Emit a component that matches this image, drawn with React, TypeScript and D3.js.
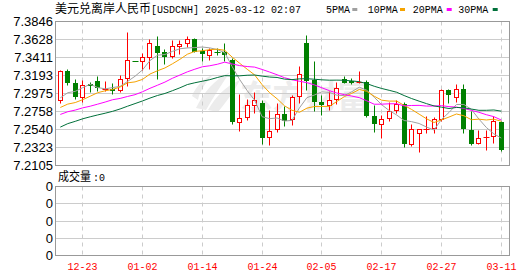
import React from 'react';
import * as d3 from 'd3';

// ---- data ----
const dates = ['12-18','12-19','12-20','12-23','12-24','12-25','12-26','12-27','12-30','12-31','01-01','01-02','01-03','01-06','01-07','01-08','01-09','01-10','01-13','01-14','01-15','01-16','01-17','01-20','01-21','01-22','01-23','01-24','01-27','01-28','01-29','01-30','01-31','02-03','02-04','02-05','02-06','02-07','02-10','02-11','02-12','02-13','02-14','02-17','02-18','02-19','02-20','02-21','02-24','02-25','02-26','02-27','02-28','03-03','03-04','03-05','03-06','03-07','03-10','03-11'];

const opens = [7.2891,7.3237,7.3096,7.2927,7.3088,7.3121,7.3024,7.3028,7.3012,7.3152,7.3363,7.3362,7.3411,7.3547,7.3471,7.3418,7.3547,7.3580,7.3632,7.3479,7.3435,7.3475,7.3471,7.3370,7.2629,7.2681,7.2830,7.2858,7.2444,7.2540,7.2722,7.2665,7.2939,7.3584,7.3128,7.2870,7.2830,7.2903,7.3145,7.3118,7.3106,7.3104,7.2701,7.2601,7.2668,7.2765,7.2846,7.2359,7.2487,7.2540,7.2552,7.2656,7.3015,7.2927,7.3028,7.2532,7.2371,7.2441,7.2456,7.2629];
const highs = [7.3257,7.3269,7.3145,7.3128,7.3109,7.3185,7.3124,7.3100,7.3193,7.3708,7.3364,7.3454,7.3632,7.3660,7.3511,7.3620,7.3620,7.3660,7.3638,7.3515,7.3520,7.3520,7.3584,7.3394,7.2967,7.2907,7.2983,7.2886,7.2774,7.2855,7.2822,7.2951,7.3306,7.3680,7.3366,7.2951,7.3000,7.3104,7.3181,7.3157,7.3245,7.3136,7.2826,7.2713,7.2862,7.2895,7.2862,7.2604,7.2546,7.2701,7.2681,7.3028,7.3024,7.3080,7.3080,7.2762,7.2532,7.2532,7.2701,7.2632];
const lows = [7.2855,7.3076,7.2903,7.2870,7.2983,7.2995,7.3000,7.2959,7.2983,7.3055,7.3360,7.3249,7.3266,7.3145,7.3326,7.3394,7.3447,7.3532,7.3475,7.3358,7.3370,7.3439,7.3358,7.2604,7.2520,7.2644,7.2734,7.2359,7.2351,7.2504,7.2572,7.2592,7.2855,7.3015,7.2753,7.2705,7.2765,7.2846,7.3096,7.3084,7.3096,7.2685,7.2508,7.2427,7.2632,7.2734,7.2318,7.2338,7.2257,7.2487,7.2487,7.2637,7.2855,7.2862,7.2492,7.2342,7.2359,7.2282,7.2371,7.2270];
const closes = [7.3245,7.3109,7.2934,7.3072,7.3076,7.3048,7.3028,7.3012,7.3145,7.3375,7.3361,7.3411,7.3580,7.3466,7.3418,7.3547,7.3572,7.3628,7.3487,7.3454,7.3495,7.3469,7.3442,7.2637,7.2677,7.2830,7.2886,7.2444,7.2520,7.2717,7.2644,7.2927,7.3205,7.3136,7.2874,7.2838,7.2891,7.3036,7.3109,7.3112,7.3112,7.2705,7.2613,7.2656,7.2762,7.2843,7.2371,7.2544,7.2544,7.2546,7.2665,7.3015,7.2959,7.3028,7.2548,7.2366,7.2435,7.2447,7.2641,7.2294];
// closes of the 29 sessions before the first visible candle (feed the moving averages)
const priorCloses = [7.185,7.210,7.215,7.235,7.238,7.240,7.232,7.229,7.238,7.241,7.245,7.254,7.253,7.268,7.255,7.252,7.245,7.283,7.290,7.293,7.270,7.275,7.272,7.266,7.262,7.280,7.285,7.285,7.287];

const priceTicks = [7.2105,7.2323,7.2540,7.2758,7.2975,7.3193,7.3411,7.3628,7.3846];
const xTickLabels = ['12-23','01-02','01-14','01-24','02-05','02-17','02-27','03-11'];
const volumeTickLabels = ['0','0','0','0','0'];
const maPeriods = [5,10,20,30];
const maNames = ['5PMA','10PMA','20PMA','30PMA'];
const titleCn = '美元兑离岸人民币';
const titleAscii = '[USDCNH] 2025-03-12 02:07';
const volTitleCn = '成交量';
const volTitleAscii = ':0';
const watermark = '东方财富';

// ---- style ----
const maColors = ['#a0a0a0','#f5a300','#ff00ff','#00703a'];
const RED = '#ff0000';
const GREEN = '#008000';
const MONO = '"Liberation Mono", "DejaVu Sans Mono", monospace';
const CJK = '"Noto Sans CJK SC", sans-serif';
const SANS = '"Liberation Sans", Arial, sans-serif';

const main = { left: 55.5, right: 509.5, top: 21.5, bottom: 165.5 };
const vol = { left: 55.5, right: 509.5, top: 186.5, bottom: 255.5 };

const px = (v: number) => Math.round(v - 0.5) + 0.5;

export default function App() {
  const x = d3.scalePoint<string>().domain(dates).range([60.3, 501.3]);
  const y = d3.scaleLinear().domain([priceTicks[0], priceTicks[priceTicks.length - 1]]).range([main.bottom, main.top]);
  const yVol = d3.scalePoint<number>().domain(d3.range(volumeTickLabels.length)).range([vol.bottom, vol.top]);

  const all = priorCloses.concat(closes);
  const off = priorCloses.length;
  const mas = maPeriods.map((p) =>
    closes.map((_, i) => d3.mean(all.slice(i + off - p + 1, i + off + 1)) as number)
  );
  const line = d3.line<number>().x((_, i) => x(dates[i]) as number).y((v) => y(v));

  const gridXs = xTickLabels.map((d) => px(x(d) as number));

  const legendX = [326, 367.7, 412.7, 458.3];
  const dashX = [352.3, 400, 446.7, 492.7];

  return (
    <svg width={530} height={276} style={{ display: 'block', position: 'absolute', left: 0, top: 0 }}>
      <rect x={0} y={0} width={530} height={276} fill="#fff" />
      <defs>
        <clipPath id="mainClip">
          <rect x={main.left} y={main.top} width={main.right - main.left} height={main.bottom - main.top} />
        </clipPath>
      </defs>

      {/* title */}
      <text x={55} y={13} fontSize={12} fontFamily={CJK} textLength={96} lengthAdjust="spacingAndGlyphs" fill="#000">{titleCn}</text>
      <text x={151} y={13} fontFamily={MONO} fontSize={11} textLength={150} lengthAdjust="spacingAndGlyphs" fill="#000">{titleAscii}</text>
      {maNames.map((n, i) => (
        <g key={n}>
          <text x={legendX[i]} y={13} fontFamily={MONO} fontSize={11} textLength={n.length * 6} lengthAdjust="spacingAndGlyphs" fill="#000">{n}</text>
          <rect x={dashX[i]} y={8} width={5} height={3} fill={maColors[i]} />
        </g>
      ))}

      {/* watermark */}
      <g fill="#ececec" stroke="none">
        <path d="M196,108 C204,92 214,80 230,72 C222,84 214,96 206,110 Z" />
        <path d="M208,110 C216,96 226,86 240,80 C234,92 226,102 218,112 Z" />
        <path d="M192,96 C196,86 204,78 214,74 C206,82 200,90 198,100 Z" />
        <text x={240} y={108} fontFamily={CJK} fontWeight="bold" fontSize={32} textLength={130} lengthAdjust="spacingAndGlyphs">{watermark}</text>
      </g>

      {/* main grid */}
      {priceTicks.map((t) => (
        <line key={t} x1={main.left} x2={main.right} y1={px(y(t))} y2={px(y(t))} stroke="#cccccc" />
      ))}
      {gridXs.map((gx, i) => (
        <g key={i}>
          <line x1={gx} x2={gx} y1={main.top} y2={main.bottom} stroke="#cccccc" strokeDasharray="4,4" />
          <line x1={gx} x2={gx} y1={vol.top} y2={vol.bottom} stroke="#cccccc" strokeDasharray="4,4" />
        </g>
      ))}

      {/* candles */}
      <g clipPath="url(#mainClip)">
        {dates.map((d, i) => {
          const o = opens[i], c = closes[i], h = highs[i], l = lows[i];
          const cx = px(x(d) as number);
          const yT = px(y(Math.max(o, c)));
          const yB = px(y(Math.min(o, c)));
          const yH = px(y(h));
          const yL = px(y(l));
          const up = c >= o;
          const col = up ? RED : GREEN;
          if (yB - yT < 1) {
            return (
              <g key={d} stroke={col}>
                <line x1={cx} x2={cx} y1={yH} y2={yL} />
                <line x1={cx - 3} x2={cx + 3} y1={yT} y2={yT} />
              </g>
            );
          }
          if (up) {
            return (
              <g key={d} stroke={col}>
                <line x1={cx} x2={cx} y1={yH} y2={yT} />
                <line x1={cx} x2={cx} y1={yB} y2={yL} />
                <rect x={cx - 2} y={yT} width={4} height={yB - yT} fill="#fff" />
              </g>
            );
          }
          return (
            <g key={d}>
              <line x1={cx} x2={cx} y1={yH} y2={yL} stroke={col} />
              <rect x={cx - 2.5} y={yT - 0.5} width={5} height={yB - yT + 1} fill={col} />
            </g>
          );
        })}
        {mas.map((m, k) => (
          <path key={k} d={line(m) || ''} fill="none" stroke={maColors[k]} strokeWidth={1} />
        ))}
      </g>

      {/* frames */}
      <rect x={main.left} y={main.top} width={main.right - main.left} height={main.bottom - main.top} fill="none" stroke="#999999" />

      {/* price labels */}
      {priceTicks.map((t) => (
        <text key={t} x={53} y={px(y(t)) + 4.5} textAnchor="end" fontFamily={SANS} fontSize={13} fill="#000">{t.toFixed(4)}</text>
      ))}

      {/* volume panel */}
      <text x={58} y={181} fontSize={12} fontFamily={CJK} textLength={33} lengthAdjust="spacingAndGlyphs" fill="#000">{volTitleCn}</text>
      <text x={93} y={181} fontFamily={MONO} fontSize={11} textLength={12} lengthAdjust="spacingAndGlyphs" fill="#000">{volTitleAscii}</text>
      {volumeTickLabels.map((lab, i) => {
        const gy = px(yVol(i) as number);
        return (
          <g key={i}>
            {i > 0 && i < volumeTickLabels.length - 1 && (
              <line x1={vol.left} x2={vol.right} y1={gy} y2={gy} stroke="#cccccc" />
            )}
            <text x={53} y={gy + 4.5} textAnchor="end" fontFamily={SANS} fontSize={13} fill="#000">{lab}</text>
          </g>
        );
      })}
      <rect x={vol.left} y={vol.top} width={vol.right - vol.left} height={vol.bottom - vol.top} fill="none" stroke="#999999" />

      {/* x labels */}
      {xTickLabels.map((d, i) => (
        <text key={d} x={gridXs[i]} y={270} textAnchor="middle" fontFamily={MONO} fontSize={11} textLength={30} lengthAdjust="spacingAndGlyphs" fill={RED}>{d}</text>
      ))}
    </svg>
  );
}
